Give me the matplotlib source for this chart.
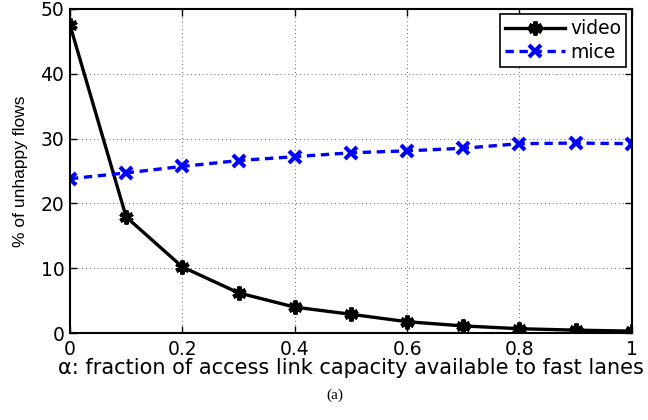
import matplotlib
matplotlib.use("Agg")
import matplotlib.pyplot as plt
import numpy as np

# fraction of access link capacity given to fast lanes
alpha = [0.0, 0.1, 0.2, 0.3, 0.4, 0.5, 0.6, 0.7, 0.8, 0.9, 1.0]
video = [47.5, 17.9, 10.2, 6.2, 4.0, 2.9, 1.75, 1.1, 0.67, 0.45, 0.3]
mice = [23.8, 24.7, 25.7, 26.6, 27.2, 27.8, 28.1, 28.5, 29.2, 29.3, 29.2]

xticks = [0, 0.2, 0.4, 0.6, 0.8, 1]
xtick_labels = ["0", "0.2", "0.4", "0.6", "0.8", "1"]
yticks = [0, 10, 20, 30, 40, 50]

plt.rcParams['font.family'] = ['DejaVu Sans']

fig = plt.figure(figsize=(6.48, 4.2), dpi=100)
ax = fig.add_axes([0.108, 0.207, 0.867, 0.772])

ax.plot(alpha, video, color='black', linewidth=2.4, marker=(6, 2, 0),
        markersize=10, markeredgewidth=3, label='video')
ax.plot(alpha, mice, color='blue', linewidth=2.4, linestyle=(0, (2.5, 1.7)),
        marker='x', markersize=8, markeredgewidth=3, label='mice')

ax.set_xlim(0, 1)
ax.set_ylim(0, 50)
ax.set_xticks(xticks)
ax.set_xticklabels(xtick_labels)
ax.set_yticks(yticks)
ax.tick_params(direction='in', labelsize=13.5, length=5, width=1, top=True, right=True)
ax.tick_params(axis='x', pad=5)
ax.tick_params(axis='y', pad=4)
for s in ax.spines.values():
    s.set_linewidth(1.5)
ax.grid(True, linestyle=(0, (1, 3)), color='#666666', linewidth=0.7)

ax.set_xlabel('α: fraction of access link capacity available to fast lanes',
              fontsize=15, labelpad=-1)
ax.set_ylabel('% of unhappy flows', fontsize=12.5,
              family=['Liberation Sans', 'DejaVu Sans'], labelpad=9)

leg = ax.legend(loc='upper right', fontsize=13.5, fancybox=False, framealpha=1,
                edgecolor='black', handlelength=3.2, borderpad=0.25,
                labelspacing=0.25, borderaxespad=0.3, handletextpad=0.3)
leg.get_frame().set_linewidth(1.2)

fig.text(0.517, 0.06, '(a)', fontsize=11, family=['Liberation Serif', 'DejaVu Serif'],
         ha='center', va='center')

fig.savefig('out.png', dpi=100)
